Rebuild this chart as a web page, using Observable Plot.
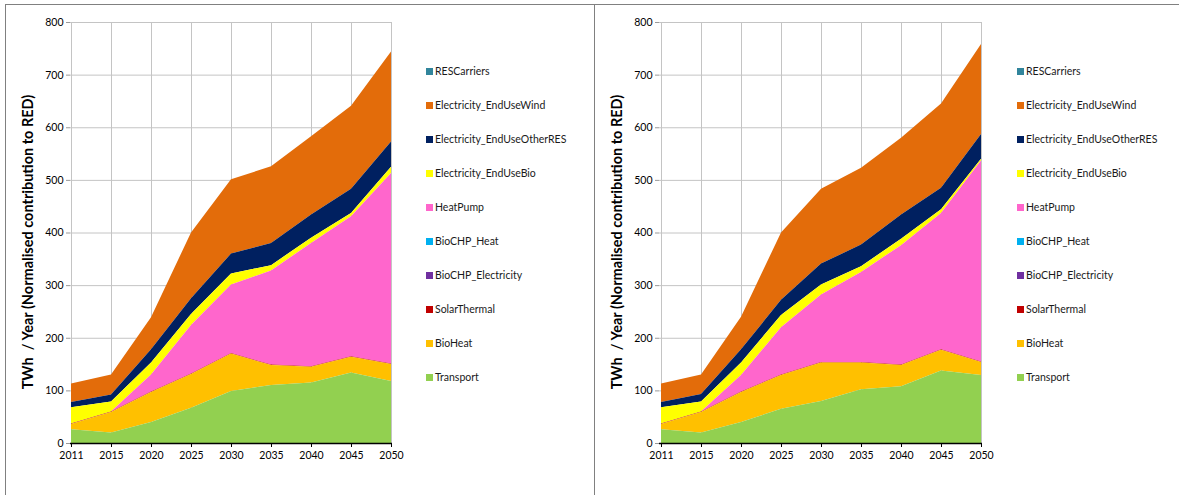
<!DOCTYPE html>
<html><head><meta charset="utf-8">
<script src="https://cdn.jsdelivr.net/npm/d3@7"></script>
<script src="https://cdn.jsdelivr.net/npm/@observablehq/plot@0.6"></script>
<style>
body{margin:0;background:#fff;width:1179px;height:495px;overflow:hidden;position:relative;font-family:Lato,sans-serif}
.ln{position:absolute;background:#808080;z-index:5}
.chart{position:absolute;top:5px}
.chart svg{overflow:visible}
.legend{position:absolute;font-size:10.5px;color:#1a1a1a}
.legend div{position:absolute;white-space:nowrap;line-height:12px;left:0}
.legend span{display:inline-block;width:7px;height:7px;margin-right:2px;vertical-align:0px}
</style></head><body>
<div id="c1" class="chart" style="left:5px"></div>
<div id="c2" class="chart" style="left:594px"></div>
<div id="l1" class="legend" style="left:426px;top:65px"></div>
<div id="l2" class="legend" style="left:1017px;top:65px"></div>
<div class="ln" style="left:5px;top:4px;width:1174px;height:1px"></div>
<div class="ln" style="left:5px;top:4px;width:1px;height:491px"></div>
<div class="ln" style="left:594px;top:4px;width:1px;height:491px"></div>
<script>
const years = ["2011","2015","2020","2025","2030","2035","2040","2045","2050"];
const yTicks = [0,100,200,300,400,500,600,700,800];
const yTitle = "TWh  / Year (Normalised contribution to RED)";

// legend order (top to bottom)
const legendNames = ["RESCarriers","Electricity_EndUseWind","Electricity_EndUseOtherRES","Electricity_EndUseBio","HeatPump","BioCHP_Heat","BioCHP_Electricity","SolarThermal","BioHeat","Transport"];
const legendColors = ["#31859C","#E36C0A","#002060","#FFFF00","#FF66CC","#00B0F0","#7030A0","#C00000","#FFC000","#92D050"];

// left chart values
const leftTransport = [26, 20, 40, 67, 99, 110, 115, 134, 118];
const leftBioHeat = [10, 39, 57, 64, 71, 38, 30, 30, 32];
const leftSolarThermal = [1, 1, 1, 1, 1, 1, 1, 1, 1];
const leftBioCHP_Electricity = [0, 0, 0, 0, 0, 0, 0, 0, 0];
const leftBioCHP_Heat = [0, 0, 0, 0, 0, 0, 0, 0, 0];
const leftHeatPump = [0, 0, 32, 92, 130, 179, 234, 266, 362];
const leftEndUseBio = [31, 19, 23, 21, 21, 10, 10, 6, 12];
const leftEndUseOtherRES = [10, 13, 25, 30, 38, 42, 44, 46, 48];
const leftEndUseWind = [35, 38, 61, 125, 141, 146, 149, 158, 171];
const leftRESCarriers = [0, 0, 0, 0, 0, 0, 0, 0, 0];

// right chart values
const rightTransport = [26, 20, 40, 65, 80, 102, 108, 138, 129];
const rightBioHeat = [10, 39, 57, 64, 73, 51, 40, 39, 25];
const rightSolarThermal = [1, 1, 1, 1, 1, 1, 1, 1, 1];
const rightBioCHP_Electricity = [0, 0, 0, 0, 0, 0, 0, 0, 0];
const rightBioCHP_Heat = [0, 0, 0, 0, 0, 0, 0, 0, 0];
const rightHeatPump = [0, 0, 31, 90, 128, 171, 227, 259, 382];
const rightEndUseBio = [31, 19, 24, 23, 19, 11, 12, 7, 3];
const rightEndUseOtherRES = [10, 14, 25, 29, 40, 41, 46, 41, 47];
const rightEndUseWind = [35, 37, 62, 128, 142, 146, 146, 160, 171];
const rightRESCarriers = [0, 0, 0, 0, 0, 0, 0, 0, 0];

const leftSeries = [leftRESCarriers, leftEndUseWind, leftEndUseOtherRES, leftEndUseBio, leftHeatPump, leftBioCHP_Heat, leftBioCHP_Electricity, leftSolarThermal, leftBioHeat, leftTransport];
const rightSeries = [rightRESCarriers, rightEndUseWind, rightEndUseOtherRES, rightEndUseBio, rightHeatPump, rightBioCHP_Heat, rightBioCHP_Electricity, rightSolarThermal, rightBioHeat, rightTransport];

const stackOrder = legendNames.slice().reverse();

function makeChart(seriesVals, width) {
  const rows = [];
  legendNames.forEach((name, k) => years.forEach((yr, i) => rows.push({year: yr, series: name, value: seriesVals[k][i]})));
  return Plot.plot({
    width, height: 470, marginLeft: 65, marginRight: 13, marginTop: 17, marginBottom: 32,
    style: {fontFamily: "Lato, sans-serif", fontSize: "10px", color: "#000", background: "transparent", overflow: "visible"},
    x: {type: "point", domain: years, padding: 0, label: null},
    y: {domain: [0, 800], label: null},
    color: {domain: legendNames, range: legendColors},
    marks: [
      Plot.gridY(yTicks, {stroke: "#c4c4c4", strokeOpacity: 1}),
      Plot.gridX({stroke: "#c4c4c4", strokeOpacity: 1}),
      Plot.areaY(rows, {x: "year", y: "value", z: "series", fill: "series", order: stackOrder}),
      Plot.ruleY([0], {stroke: "#000", strokeWidth: 1.5}),
      Plot.axisY(yTicks, {tickSize: 4, stroke: "#999", fill: "#000", tickPadding: 3, label: null, fontSize: 10.5}),
      Plot.axisX({tickSize: 4, tickPadding: 4, label: null, fontSize: 10.5}),
      Plot.text([yTitle], {frameAnchor: "left", textAnchor: "middle", lineAnchor: "middle", rotate: -90, dx: -42, dy: 9, fontWeight: "bold", fontSize: 14.5, text: d => d, fill: "#000"})
    ]
  });
}

document.getElementById("c1").append(makeChart(leftSeries, 400));
document.getElementById("c2").append(makeChart(rightSeries, 401));

function makeLegend(id) {
  const el = document.getElementById(id);
  legendNames.forEach((name, i) => {
    const d = document.createElement("div");
    d.style.top = (34 * i) + "px";
    const s = document.createElement("span");
    s.style.background = legendColors[i];
    d.append(s, document.createTextNode(name));
    el.append(d);
  });
}
makeLegend("l1");
makeLegend("l2");
</script>
</body></html>
